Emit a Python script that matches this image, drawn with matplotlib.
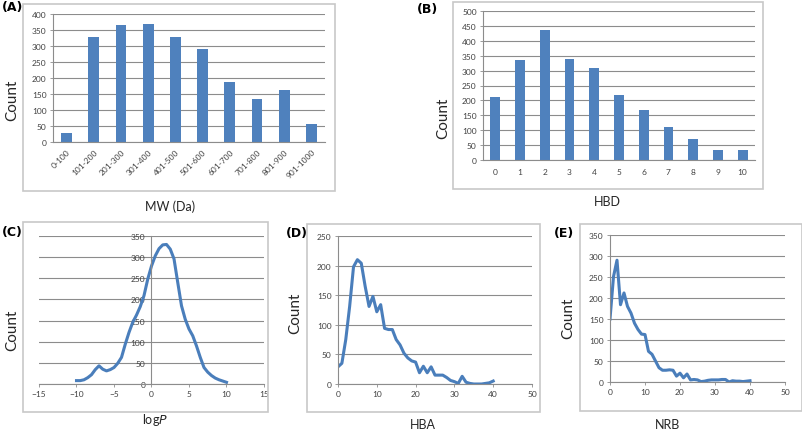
import matplotlib
matplotlib.use("Agg")
import matplotlib.pyplot as plt
from matplotlib.patches import Rectangle

plt.rcParams['font.family'] = ['Lato', 'DejaVu Sans']

W, H = 803, 435

# (A) molecular weight histogram
mw_bins = ["0-100", "101-200", "201-300", "301-400", "401-500",
           "501-600", "601-700", "701-800", "801-900", "901-1000"]
mw_counts = [28, 327, 367, 369, 329, 292, 187, 135, 161, 56]

# (B) H-bond donors
hbd_vals = list(range(11))
hbd_counts = [210, 337, 436, 340, 310, 218, 168, 110, 71, 32, 32]

# (C) logP distribution
logp_x = [-10, -9.5, -9, -8.5, -8, -7.5, -7, -6.5, -6, -5.5, -5, -4.5, -4,
          -3.5, -3, -2.5, -2, -1.5, -1, -0.5, 0, 0.5, 1, 1.5, 2, 2.5, 3,
          3.5, 4, 4.5, 5, 5.5, 6, 6.5, 7, 7.5, 8, 8.5, 9, 9.5, 10]
logp_y = [8, 8, 10, 15, 22, 34, 43, 35, 31, 34, 39, 49, 63,
          94, 122, 146, 163, 183, 209, 248, 279, 303, 320, 329, 330, 319, 296,
          240, 185, 153, 130, 114, 90, 63, 39, 28, 20, 14, 10, 7, 4]

# (D) H-bond acceptors
hba_x = list(range(41))
hba_y = [29, 35, 75, 131, 198, 210, 204, 165, 131, 148, 122, 134, 94, 92,
         92, 75, 66, 52, 44, 39, 37, 19, 30, 19, 29, 15, 15, 15, 11, 6,
         4, 1, 13, 3, 1, 0, 0, 0, 1, 2, 5]

# (E) number of rotatable bonds
nrb_x = list(range(41))
nrb_y = [150, 251, 290, 184, 212, 180, 164, 140, 125, 114, 113, 73, 66, 50,
         34, 28, 28, 29, 28, 14, 21, 10, 19, 5, 6, 5, 1, 2, 4, 5,
         5, 5, 6, 6, 0, 3, 2, 2, 1, 2, 3]

BLUE = "#4F81BD"
LINE = "#4A7EBB"
GRID = "#8c8c8c"
TXT = "#404040"

fig = plt.figure(figsize=(W / 100, H / 100), dpi=100)


def px_axes(x0, y0, x1, y1):
    return fig.add_axes([x0 / W, 1 - y1 / H, (x1 - x0) / W, (y1 - y0) / H])


def frame(x0, y0, x1, y1):
    fig.patches.append(Rectangle((x0 / W, 1 - y1 / H), (x1 - x0) / W, (y1 - y0) / H,
                                 transform=fig.transFigure, fill=False,
                                 edgecolor="#c8c8c8", linewidth=1.2, zorder=0))


def txt(x, y, s, **kw):
    fig.text(x / W, 1 - y / H, s, ha="center", va="center", color="#262626", **kw)


def panel(x, y, s):
    fig.text(x / W, 1 - y / H, s, ha="center", va="center", color="black",
             fontsize=9, fontweight="bold", family="DejaVu Sans")


def style(ax):
    for s in ["top", "right"]:
        ax.spines[s].set_visible(False)
    for s in ["left", "bottom"]:
        ax.spines[s].set_color(GRID)
        ax.spines[s].set_linewidth(0.8)
    ax.yaxis.grid(True, color=GRID, linewidth=0.8)
    ax.set_axisbelow(True)
    ax.tick_params(labelsize=6, colors=TXT, length=2.5, width=0.6, pad=2)
    ax.tick_params(axis="both", color=GRID)


# frames
frame(23, 5, 335, 192)
frame(453, 3, 763, 190)
frame(23, 223, 268, 413)
frame(307, 225, 540, 413)
frame(580, 225, 802, 412)

# (A)
ax = px_axes(53, 15, 325, 143)
style(ax)
xa = range(len(mw_bins))
ax.bar(xa, mw_counts, width=0.4, color=BLUE)
ax.set_xlim(-0.5, len(mw_bins) - 0.5)
ax.set_ylim(0, 400)
ax.set_yticks(range(0, 401, 50))
ax.set_xticks(list(xa))
ax.set_xticklabels(mw_bins, rotation=45, ha="right", rotation_mode="anchor")
ax.tick_params(axis="x", length=0, pad=4)
panel(13, 8, "(A)")
txt(12, 100, "Count", fontsize=11, rotation=90)
txt(170, 207, "MW (Da)", fontsize=9)

# (B)
ax = px_axes(483, 12, 755, 161)
style(ax)
ax.bar(hbd_vals, hbd_counts, width=0.4, color=BLUE)
ax.set_xlim(-0.5, len(hbd_vals) - 0.5)
ax.set_ylim(0, 500)
ax.set_yticks(range(0, 501, 50))
ax.set_xticks(hbd_vals)
ax.tick_params(axis="x", length=0, pad=6)
panel(428, 10, "(B)")
txt(443, 118, "Count", fontsize=11, rotation=90)
txt(607, 202, "HBD", fontsize=9)

# (C)
ax = px_axes(39, 237, 264, 385)
style(ax)
ax.plot(logp_x, logp_y, color=LINE, linewidth=2.2)
ax.set_xlim(-15, 15)
ax.set_ylim(0, 350)
ax.set_xticks(range(-15, 16, 5))
ax.set_yticks(range(0, 351, 50))
ax.spines["left"].set_position(("data", 0))
panel(12, 233, "(C)")
txt(12, 330, "Count", fontsize=11, rotation=90)
txt(155, 420, r"log$\mathit{P}$", fontsize=9)

# (D)
ax = px_axes(338, 237, 532, 385)
style(ax)
ax.plot(hba_x, hba_y, color=LINE, linewidth=2.2)
ax.set_xlim(0, 50)
ax.set_ylim(0, 250)
ax.set_xticks(range(0, 51, 10))
ax.set_yticks(range(0, 251, 50))
panel(297, 234, "(D)")
txt(295, 313, "Count", fontsize=11, rotation=90)
txt(423, 425, "HBA", fontsize=9)

# (E)
ax = px_axes(610, 236, 785, 383)
style(ax)
ax.plot(nrb_x, nrb_y, color=LINE, linewidth=2.2)
ax.set_xlim(0, 50)
ax.set_ylim(0, 350)
ax.set_xticks(range(0, 51, 10))
ax.set_yticks(range(0, 351, 50))
panel(564, 234, "(E)")
txt(568, 318, "Count", fontsize=11, rotation=90)
txt(668, 425, "NRB", fontsize=9)

fig.savefig("out.png", dpi=100)
